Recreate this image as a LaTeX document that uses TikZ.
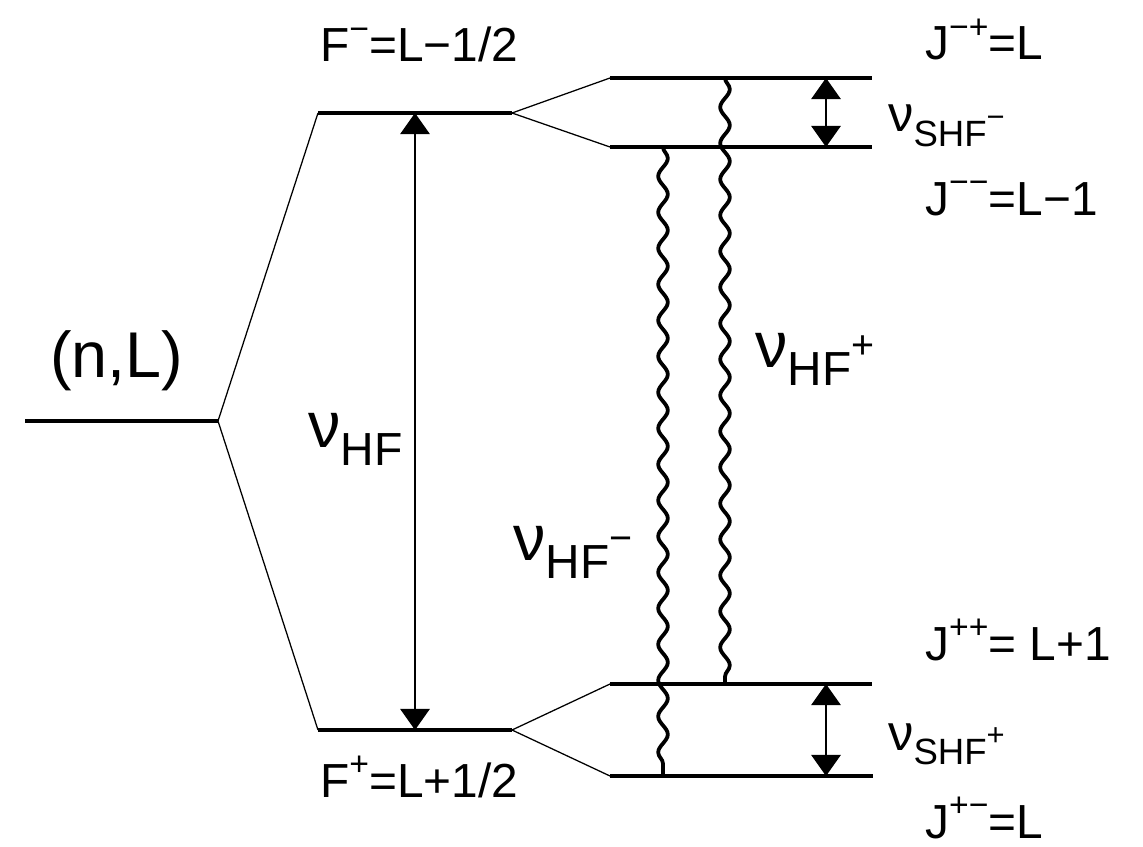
\documentclass[tikz,border=0pt]{standalone}
\usepackage{fontspec}
\setmainfont{Liberation Sans}
\usetikzlibrary{arrows.meta,decorations.pathmorphing}

% text sizes
\newcommand\fsz[1]{\fontsize{#1}{#1}\selectfont}
\newcommand\up[1]{\raisebox{15pt}{\fsz{24}#1}}

\begin{document}
\begin{tikzpicture}[x=0.025cm, y=-0.025cm,
    level/.style={line width=3.3pt},
    split/.style={line width=0.9pt},
    dbl/.style={{Triangle[width=21pt,length=15pt]}-{Triangle[width=21pt,length=15pt]}, line width=0.9pt},
    wave/.style={line width=2.7pt, decorate,
                 decoration={snake, segment length=0.9cm, amplitude=0.12cm}},
    lab/.style={inner sep=0pt, anchor=base west, font=\fsz{34}}]
  \useasboundingbox (0,0) rectangle (1143,847);

  % level end points
  \coordinate (nl-a) at (25,421);   \coordinate (nl-b) at (218,421);
  \coordinate (fm-a) at (318,113);  \coordinate (fm-b) at (512,113);
  \coordinate (fp-a) at (318,730);  \coordinate (fp-b) at (512,730);
  \coordinate (jmp-a) at (610,78);  \coordinate (jmp-b) at (872,78);
  \coordinate (jmm-a) at (610,147); \coordinate (jmm-b) at (872,147);
  \coordinate (jpp-a) at (610,684); \coordinate (jpp-b) at (872,684);
  \coordinate (jpm-a) at (610,776); \coordinate (jpm-b) at (873,776);

  % x positions of the transitions
  \coordinate (hf) at (415,0);
  \coordinate (shf) at (826,0);
  \coordinate (wm) at (663,0);
  \coordinate (wp) at (725,0);

  % levels
  \draw[level] (nl-a) -- (nl-b);
  \draw[level] (fm-a) -- (fm-b);
  \draw[level] (fp-a) -- (fp-b);
  \draw[level] (jmp-a) -- (jmp-b);
  \draw[level] (jmm-a) -- (jmm-b);
  \draw[level] (jpp-a) -- (jpp-b);
  \draw[level] (jpm-a) -- (jpm-b);

  % splittings
  \draw[split] (fm-a) -- (nl-b) -- (fp-a);
  \draw[split] (jmp-a) -- (fm-b) -- (jmm-a);
  \draw[split] (jpp-a) -- (fp-b) -- (jpm-a);

  % transitions
  \draw[dbl] (hf |- fm-a) -- (hf |- fp-a);
  \draw[dbl] (shf |- jmp-a) -- (shf |- jmm-a);
  \draw[dbl] (shf |- jpp-a) -- (shf |- jpm-a);
  \draw[wave] (wm |- jmm-a) -- (wm |- jpm-a);
  \draw[wave] (wp |- jmp-a) -- (wp |- jpp-a);

  % labels
  \node[lab] (nl) at (50,377) {\fsz{46}(n,L)};
  \node[lab] (fm) at (320,62) {F\up{−}=L−1/2};
  \node[lab] (fp) at (320,797) {F\up{+}=L+1/2};
  \node[lab] (jmp) at (925,60) {J\up{−+}=L};
  \node[lab] (jmm) at (925,215) {J\up{−−}=L−1};
  \node[lab] (jpp) at (925,660) {J\up{++}= L+1};
  \node[lab] (jpm) at (925,838) {J\up{+−}=L};
  \node[lab] (nuhf) at (308,447)
    {{\fsz{46}ν}\raisebox{-13pt}{\fsz{33}HF}};
  \node[lab] (nuhfp) at (755,367)
    {{\fsz{46}ν}\raisebox{-13pt}{\fsz{34}HF\raisebox{19pt}{\fsz{28}+}}};
  \node[lab] (nuhfm) at (513,560)
    {{\fsz{46}ν}\raisebox{-13pt}{\fsz{34}HF\raisebox{19pt}{\fsz{28}−}}};
  \node[lab] (nushfm) at (888,132)
    {{\fsz{36}ν}\raisebox{-10.5pt}{\fsz{26}SHF\raisebox{14pt}{\fsz{22}−}}};
  \node[lab] (nushfp) at (888,750)
    {{\fsz{36}ν}\raisebox{-10.5pt}{\fsz{26}SHF\raisebox{14pt}{\fsz{22}+}}};
\end{tikzpicture}
\end{document}
